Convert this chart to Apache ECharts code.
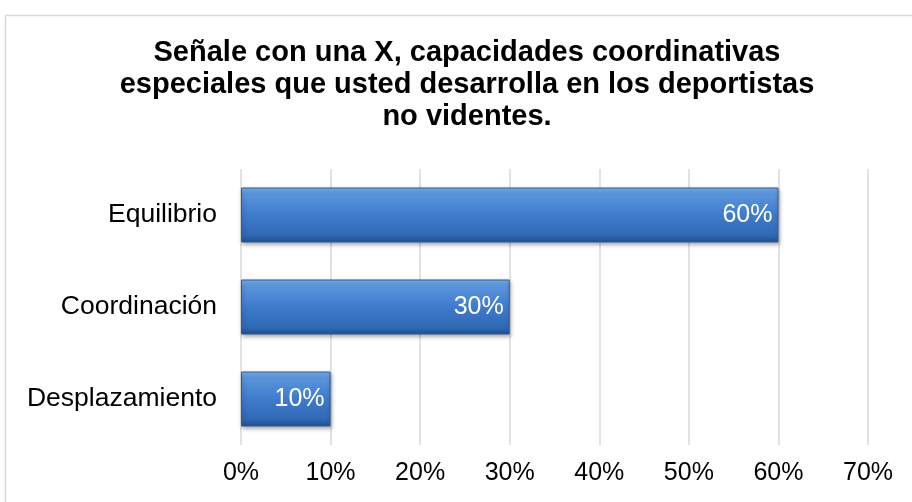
<!DOCTYPE html>
<html><head><meta charset="utf-8">
<script src="https://cdn.jsdelivr.net/npm/echarts@6/dist/echarts.min.js"></script>
<style>html,body{margin:0;padding:0;background:#fff}#c{width:912px;height:502px}</style>
</head><body><div id="c"></div>
<script>
const categories = ['Desplazamiento', 'Coordinación', 'Equilibrio'];
const values = [10, 30, 60];
const xTicks = [0, 10, 20, 30, 40, 50, 60, 70];
const titleLines = ['Señale con una X, capacidades coordinativas', 'especiales que usted desarrolla en los deportistas', 'no videntes.'];

const FF = '"Liberation Sans", Arial, sans-serif';
const chart = echarts.init(document.getElementById('c'));
chart.setOption({
  animation: false,
  backgroundColor: '#fff',
  graphic: [
    {type: 'rect', shape: {x: 5.5, y: 15.5, width: 920, height: 500}, style: {fill: 'none', stroke: '#d9d9d9', lineWidth: 1.5}, z: 0},
    {type: 'text', x: 467, y: 37, style: {text: titleLines.join('\n'), font: 'bold 29px ' + FF, fill: '#000', textAlign: 'center', textVerticalAlign: 'top', lineHeight: 32}}
  ],
  grid: {left: 241, right: 44, top: 169, bottom: 57},
  xAxis: {
    type: 'value', min: 0, max: 70, interval: 10,
    axisLabel: {formatter: v => v + '%', fontSize: 25, color: '#000', fontFamily: FF, margin: 16},
    axisLine: {show: false}, axisTick: {show: false},
    splitLine: {show: true, lineStyle: {color: '#d9d9d9', width: 1.5}}
  },
  yAxis: {
    type: 'category', data: categories,
    axisLabel: {fontSize: 26.5, color: '#000', fontFamily: FF, margin: 24},
    axisLine: {show: false}, axisTick: {show: false}
  },
  series: [{
    type: 'bar', data: values, barWidth: 55,
    itemStyle: {
      color: new echarts.graphic.LinearGradient(0, 0, 0, 1, [
        {offset: 0, color: '#7db3ec'},
        {offset: 0.12, color: '#5a95dc'},
        {offset: 0.5, color: '#3f7bcc'},
        {offset: 0.88, color: '#3068b3'},
        {offset: 1, color: '#1f4f8f'}
      ]),
      borderColor: '#2b5d9e', borderWidth: 1,
      shadowColor: 'rgba(0,0,0,0.35)', shadowBlur: 4, shadowOffsetY: 2, shadowOffsetX: 1
    },
    label: {show: true, position: 'insideRight', formatter: p => p.value + '%', color: '#fff', fontSize: 25, fontFamily: FF, distance: 6}
  }]
});
</script></body></html>
